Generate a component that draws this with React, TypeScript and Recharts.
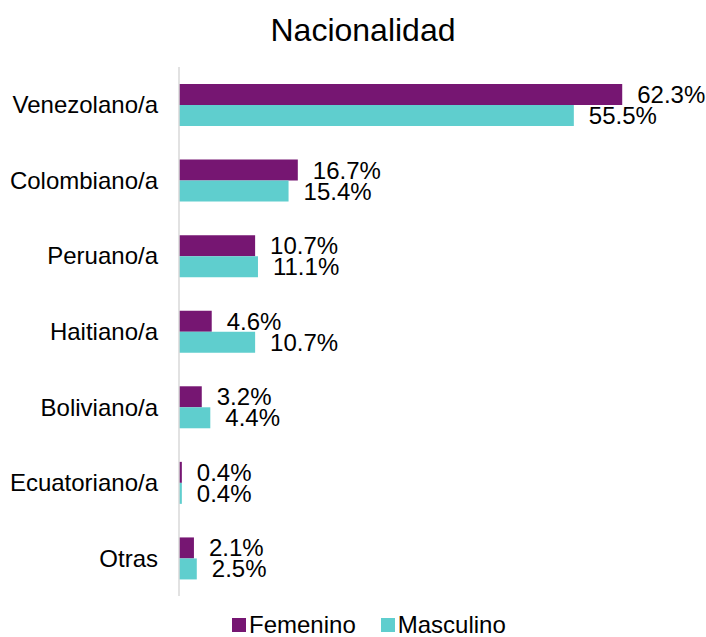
import React from 'react';
import { BarChart, Bar, XAxis, YAxis, LabelList } from 'recharts';

const categories = ['Venezolano/a', 'Colombiano/a', 'Peruano/a', 'Haitiano/a', 'Boliviano/a', 'Ecuatoriano/a', 'Otras'];
const femenino = [62.3, 16.7, 10.7, 4.6, 3.2, 0.4, 2.1];
const masculino = [55.5, 15.4, 11.1, 10.7, 4.4, 0.4, 2.5];
const seriesNames = ['Femenino', 'Masculino'];
const colors = ['#761672', '#5FCECE'];
const title = 'Nacionalidad';

const data = categories.map((c, i) => ({ name: c, Femenino: femenino[i], Masculino: masculino[i] }));
const FONT = 'Arial, "Liberation Sans", sans-serif';
const fmt = (v: any) => `${Number(v).toFixed(1)}%`;

export default function App() {
  return (
    <div style={{ position: 'absolute', left: 0, top: 0, width: 706, height: 637, background: '#fff', fontFamily: FONT }}>
      <div style={{ position: 'absolute', left: 0, width: 726, top: 11, textAlign: 'center', fontSize: 32, color: '#000', lineHeight: '38px' }}>{title}</div>
      <BarChart width={706} height={637} data={data} layout="vertical"
        margin={{ top: 67, right: 29, bottom: 41, left: 0 }} barGap={0} barSize={21}>
        <XAxis type="number" domain={[0, 70]} hide />
        <YAxis type="category" dataKey="name" width={179} tickLine={false} tickSize={0} tickMargin={21}
          axisLine={{ stroke: '#D9D9D9', strokeWidth: 1.5 }}
          tick={{ fill: '#000', fontSize: 24, fontFamily: FONT }} interval={0} />
        {seriesNames.map((s, i) => (
          <Bar key={s} dataKey={s} fill={colors[i]} isAnimationActive={false}>
            <LabelList dataKey={s} position="right" offset={15} formatter={fmt}
              style={{ fill: '#000', fontSize: 24, fontFamily: FONT }} />
          </Bar>
        ))}
      </BarChart>
      <div style={{ position: 'absolute', left: 232, top: 611, display: 'flex', alignItems: 'center', fontSize: 24, color: '#000', lineHeight: '28px' }}>
        {seriesNames.map((s, i) => (
          <div key={s} style={{ display: 'flex', alignItems: 'center', marginRight: i === 0 ? 25 : 0 }}>
            <span style={{ display: 'inline-block', width: 14, height: 14, background: colors[i], marginRight: 3 }} />
            <span>{s}</span>
          </div>
        ))}
      </div>
    </div>
  );
}
